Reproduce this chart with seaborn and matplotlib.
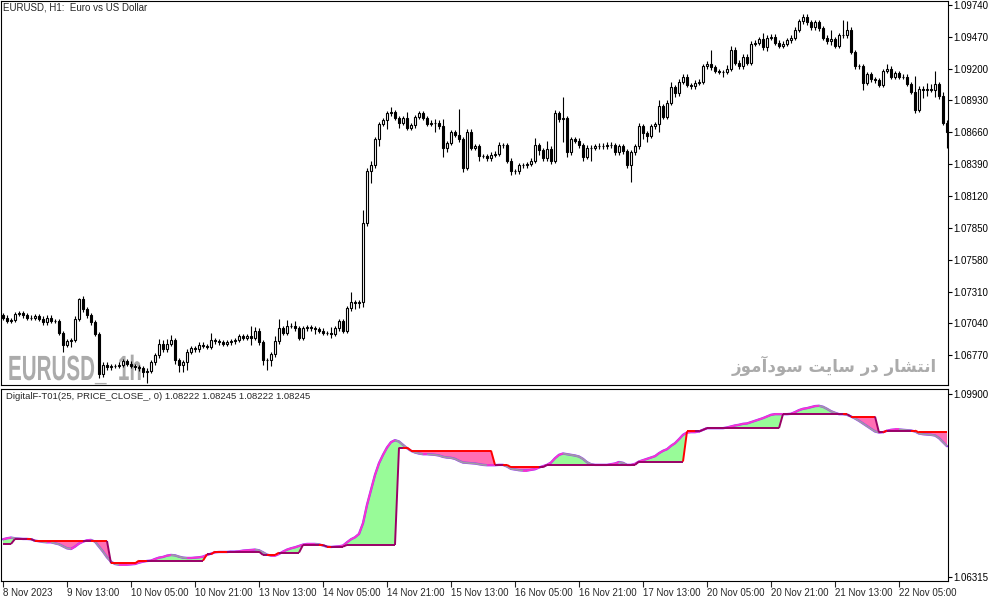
import numpy as np
import matplotlib
matplotlib.use("Agg")
import matplotlib.pyplot as plt
import seaborn as sns
from matplotlib.collections import LineCollection
from matplotlib.textpath import TextPath
from matplotlib.patches import PathPatch
from matplotlib.font_manager import FontProperties
from matplotlib.transforms import Affine2D, IdentityTransform

#%% data (EURUSD H1, 8 Nov 21:00 -> 22 Nov 17:00)
first_open = 1.0711
closes = [
    1.0709, 1.0706, 1.0707, 1.0712, 1.0713, 1.0711, 1.0709, 1.0709, 1.0710, 1.0708,
    1.0705, 1.0709, 1.0706, 1.0706, 1.0696, 1.0686, 1.0689, 1.0690, 1.0708, 1.0725,
    1.0716, 1.0711, 1.0705, 1.0695, 1.0661, 1.0669, 1.0667, 1.0668, 1.0668, 1.0669,
    1.0672, 1.0670, 1.0668, 1.0667, 1.0666, 1.0663, 1.0664, 1.0671, 1.0677, 1.0687,
    1.0682, 1.0687, 1.0690, 1.0673, 1.0669, 1.0671, 1.0680, 1.0683, 1.0682, 1.0686,
    1.0685, 1.0684, 1.0690, 1.0689, 1.0688, 1.0687, 1.0688, 1.0689, 1.0690, 1.0693,
    1.0692, 1.0693, 1.0692, 1.0698, 1.0688, 1.0673, 1.0673, 1.0678, 1.0689, 1.0700,
    1.0696, 1.0702, 1.0702, 1.0700, 1.0692, 1.0700, 1.0701, 1.0700, 1.0699, 1.0698,
    1.0696, 1.0696, 1.0695, 1.0700, 1.0706, 1.0698, 1.0717, 1.0722, 1.0721, 1.0722,
    1.0789, 1.0833, 1.0838, 1.0860, 1.0873, 1.0876, 1.0882, 1.0883, 1.0878, 1.0874,
    1.0878, 1.0870, 1.0872, 1.0879, 1.0882, 1.0878, 1.0873, 1.0874, 1.0874, 1.0871,
    1.0853, 1.0857, 1.0866, 1.0864, 1.0860, 1.0836, 1.0866, 1.0853, 1.0854, 1.0846,
    1.0846, 1.0844, 1.0847, 1.0848, 1.0855, 1.0855, 1.0842, 1.0833, 1.0833, 1.0838,
    1.0838, 1.0839, 1.0842, 1.0855, 1.0851, 1.0844, 1.0852, 1.0842, 1.0882, 1.0877,
    1.0878, 1.0849, 1.0860, 1.0859, 1.0855, 1.0845, 1.0853, 1.0853, 1.0854, 1.0854,
    1.0854, 1.0855, 1.0855, 1.0849, 1.0854, 1.0850, 1.0838, 1.0849, 1.0854, 1.0871,
    1.0865, 1.0863, 1.0871, 1.0873, 1.0888, 1.0879, 1.0891, 1.0904, 1.0899, 1.0909,
    1.0913, 1.0906, 1.0905, 1.0908, 1.0909, 1.0922, 1.0924, 1.0921, 1.0918, 1.0917,
    1.0917, 1.0920, 1.0936, 1.0925, 1.0922, 1.0930, 1.0925, 1.0941, 1.0942, 1.0945,
    1.0938, 1.0946, 1.0947, 1.0942, 1.0939, 1.0941, 1.0944, 1.0946, 1.0953, 1.0960,
    1.0964, 1.0959, 1.0955, 1.0959, 1.0954, 1.0946, 1.0943, 1.0945, 1.0939, 1.0948,
    1.0948, 1.0953, 1.0934, 1.0922, 1.0922, 1.0908, 1.0915, 1.0911, 1.0910, 1.0906,
    1.0918, 1.0920, 1.0913, 1.0916, 1.0913, 1.0913, 1.0907, 1.0900, 1.0885, 1.0903,
    1.0902, 1.0903, 1.0902, 1.0907, 1.0897, 1.0874, 1.0866,
]
# upper / lower shadow length in pips
wick_up = [
    2, 2, 2, 2, 2, 2, 2, 2, 2, 2,   2, 2, 2, 2, 2, 2, 2, 2, 2, 1,
    2, 2, 2, 2, 2, 2, 2, 2, 2, 2,   2, 2, 2, 2, 2, 2, 2, 2, 2, 4,
    3, 4, 4, 2, 2, 2, 2, 2, 2, 2,   2, 2, 6, 2, 2, 2, 2, 2, 2, 2,
    2, 2, 9, 3, 2, 2, 2, 2, 4, 8,   2, 5, 2, 4, 2, 2, 2, 2, 2, 2,
    2, 2, 5, 2, 2, 2, 2, 9, 2, 2,   11, 3, 4, 2, 2, 2, 2, 4, 2, 2,
    2, 5, 2, 2, 2, 2, 2, 2, 3, 2,   6, 2, 2, 2, 22, 2, 3, 3, 2, 2,
    2, 2, 2, 2, 3, 2, 2, 2, 2, 2,   2, 2, 2, 6, 2, 2, 7, 2, 3, 2,
    18, 2, 2, 2, 2, 2, 2, 2, 2, 3,  3, 3, 3, 2, 2, 2, 2, 2, 2, 3,
    2, 2, 2, 2, 5, 2, 2, 5, 2, 2,   2, 2, 2, 2, 2, 2, 2, 12, 2, 2,
    2, 3, 3, 2, 2, 2, 2, 2, 2, 2,   5, 2, 2, 2, 2, 2, 2, 2, 2, 2,
    2, 2, 2, 2, 2, 2, 2, 8, 2, 2,   13, 7, 2, 2, 2, 2, 2, 2, 2, 2,
    2, 4, 2, 2, 2, 2, 2, 2, 14, 2,  2, 5, 4, 11, 2, 3, 2,
]
wick_dn = [
    2, 2, 2, 2, 2, 2, 2, 2, 2, 2,   2, 2, 2, 2, 2, 6, 2, 5, 2, 2,
    2, 2, 2, 2, 3, 2, 2, 2, 2, 2,   2, 2, 2, 2, 2, 4, 9, 2, 2, 2,
    2, 2, 2, 3, 6, 6, 6, 2, 2, 2,   2, 2, 2, 2, 2, 2, 2, 2, 2, 2,
    2, 2, 6, 2, 2, 4, 8, 5, 2, 2,   2, 2, 2, 2, 2, 2, 2, 2, 4, 2,
    2, 2, 3, 2, 2, 2, 2, 2, 5, 4,   4, 2, 10, 2, 6, 2, 7, 2, 2, 4,
    2, 2, 2, 2, 2, 2, 2, 2, 8, 2,   8, 4, 2, 2, 2, 4, 2, 2, 2, 4,
    2, 2, 2, 2, 2, 2, 2, 3, 2, 2,   2, 2, 2, 2, 4, 2, 2, 3, 2, 2,
    19, 4, 2, 2, 2, 3, 2, 11, 2, 2, 2, 2, 2, 2, 2, 2, 2, 14, 2, 2,
    5, 5, 2, 2, 7, 2, 2, 2, 3, 2,   2, 2, 2, 2, 2, 2, 2, 2, 2, 2,
    4, 2, 2, 2, 2, 2, 2, 2, 2, 2,   2, 3, 2, 2, 2, 2, 2, 2, 2, 2,
    2, 2, 2, 2, 2, 2, 2, 3, 2, 2,   2, 2, 2, 2, 2, 6, 2, 2, 2, 2,
    2, 2, 2, 2, 2, 2, 2, 2, 3, 2,   7, 5, 2, 6, 3, 2, 13,
]
# DigitalF-T01 smooth filter line
digital_line = [
    1.07049, 1.07069, 1.07082, 1.07069, 1.07062, 1.07056, 1.07056, 1.07049, 1.07023, 1.07010,
    1.06997, 1.06990, 1.06990, 1.06970, 1.06951, 1.06911, 1.06872, 1.06859, 1.06905, 1.06964,
    1.07003, 1.07029, 1.07036, 1.07003, 1.06905, 1.06807, 1.06695, 1.06610, 1.06564, 1.06551,
    1.06551, 1.06551, 1.06558, 1.06564, 1.06590, 1.06610, 1.06623, 1.06630, 1.06662, 1.06689,
    1.06702, 1.06728, 1.06741, 1.06734, 1.06708, 1.06689, 1.06682, 1.06682, 1.06689, 1.06695,
    1.06708, 1.06741, 1.06767, 1.06793, 1.06800, 1.06800, 1.06800, 1.06807, 1.06807, 1.06813,
    1.06826, 1.06833, 1.06839, 1.06846, 1.06833, 1.06793, 1.06748, 1.06728, 1.06728, 1.06761,
    1.06807, 1.06846, 1.06872, 1.06892, 1.06918, 1.06944, 1.06957, 1.06957, 1.06957, 1.06951,
    1.06925, 1.06905, 1.06898, 1.06905, 1.06911, 1.06925, 1.06990, 1.07049, 1.07088, 1.07154,
    1.07364, 1.07724, 1.08019, 1.08314, 1.08543, 1.08707, 1.08851, 1.08956, 1.08995, 1.08969,
    1.08904, 1.08838, 1.08786, 1.08753, 1.08733, 1.08720, 1.08720, 1.08713, 1.08707, 1.08694,
    1.08668, 1.08654, 1.08648, 1.08628, 1.08589, 1.08556, 1.08550, 1.08543, 1.08537, 1.08523,
    1.08510, 1.08504, 1.08504, 1.08504, 1.08510, 1.08510, 1.08478, 1.08432, 1.08419, 1.08406,
    1.08399, 1.08399, 1.08412, 1.08425, 1.08458, 1.08484, 1.08510, 1.08556, 1.08641, 1.08707,
    1.08733, 1.08720, 1.08707, 1.08694, 1.08674, 1.08628, 1.08563, 1.08523, 1.08510, 1.08510,
    1.08510, 1.08510, 1.08523, 1.08537, 1.08566, 1.08550, 1.08510, 1.08510, 1.08530, 1.08576,
    1.08602, 1.08628, 1.08654, 1.08681, 1.08740, 1.08786, 1.08818, 1.08884, 1.08936, 1.09015,
    1.09100, 1.09146, 1.09153, 1.09153, 1.09166, 1.09198, 1.09231, 1.09231, 1.09231, 1.09231,
    1.09231, 1.09244, 1.09264, 1.09284, 1.09297, 1.09316, 1.09323, 1.09349, 1.09375, 1.09402,
    1.09428, 1.09460, 1.09493, 1.09506, 1.09506, 1.09506, 1.09506, 1.09513, 1.09546, 1.09585,
    1.09611, 1.09624, 1.09644, 1.09664, 1.09670, 1.09651, 1.09611, 1.09565, 1.09533, 1.09506,
    1.09506, 1.09493, 1.09460, 1.09421, 1.09375, 1.09323, 1.09270, 1.09218, 1.09166, 1.09146,
    1.09153, 1.09179, 1.09198, 1.09205, 1.09205, 1.09198, 1.09192, 1.09185, 1.09166, 1.09126,
    1.09113, 1.09107, 1.09100, 1.09087, 1.09035, 1.08956, 1.08877,
]
# trend (step) line: level and how many bars it holds
trend_levels = [1.06957, 1.07056, 1.07016, 1.06577, 1.06630, 1.06754, 1.06807, 1.06741,
                1.06787, 1.06938, 1.06905, 1.06938, 1.08851, 1.08792, 1.08510, 1.08464,
                1.08510, 1.08576, 1.09166, 1.09198, 1.09231, 1.09506, 1.09460, 1.09146,
                1.09185, 1.09146]
trend_bars = [3, 5, 19, 7, 17, 2, 12, 4, 6, 6, 5, 13, 3, 21, 4, 9, 23, 12, 4, 1,
              19, 17, 7, 2, 8, 8]

price_ticks = [1.06770, 1.07040, 1.07310, 1.07580, 1.07850, 1.08120,
               1.08390, 1.08660, 1.08930, 1.09200, 1.09470, 1.09740]
ind_ticks = [1.06315, 1.09900]
label_bars = [0, 16, 32, 48, 64, 80, 96, 112, 128, 144, 160, 176, 192, 208, 224]
time_labels = ['8 Nov 2023', '9 Nov 13:00', '10 Nov 05:00', '10 Nov 21:00', '13 Nov 13:00',
               '14 Nov 05:00', '14 Nov 21:00', '15 Nov 13:00', '16 Nov 05:00', '16 Nov 21:00',
               '17 Nov 13:00', '20 Nov 05:00', '20 Nov 21:00', '21 Nov 13:00', '22 Nov 05:00']

#%% setup
sns.set_style('white')
plt.rcParams['font.family'] = ['Liberation Sans', 'DejaVu Sans']

W, H = 1003, 603
fig = plt.figure(figsize=(W / 100, H / 100), dpi=100)
fig.patch.set_facecolor('white')

def box(l, t, r, b):
    return [l / W, 1 - b / H, (r - l) / W, (b - t) / H]

ax1 = fig.add_axes(box(1, 1, 948, 385))
ax2 = fig.add_axes(box(1, 389, 948, 581))

n = len(closes)
idx = np.arange(n)
c = np.array(closes)
o = np.r_[first_open, c[:-1]]
pip = 0.0001
hi = np.maximum(o, c) + np.array(wick_up) * pip
lo = np.minimum(o, c) - np.array(wick_dn) * pip
bull = c >= o

#%% candles
ax1.vlines(idx, lo, hi, color='black', lw=0.8, zorder=2)
ax1.bar(idx[bull], (c - o)[bull], bottom=o[bull], width=0.5,
        facecolor='white', edgecolor='black', lw=0.8, zorder=3)
ax1.bar(idx[~bull], (o - c)[~bull], bottom=c[~bull], width=0.5,
        facecolor='black', edgecolor='black', lw=0.8, zorder=3)

# gray watermark behind the candles
prop = FontProperties(family='Liberation Sans', weight='bold')
tp = TextPath((0, 0), 'EURUSD_  1h', size=1, prop=prop)
tf = Affine2D().scale(20.6, 35).translate(8, H - 380)
ax1.add_patch(PathPatch(tf.transform_path(tp), facecolor='#ABABAB', edgecolor='none',
                        transform=IdentityTransform(), zorder=1))
# Persian watermark (pre-shaped, visual order)
fa_text = '\uFEAF\uFEEE\uFEE3\uFE81\uFEA9\uFEEE\uFEB3 \uFE96\uFEF3\uFE8E\uFEB3 \uFEAD\uFEA9 \uFEAD\uFE8E\uFEB8\uFE98\uFEE7\uFE8D'
fig.text(834 / W, 1 - 366 / H, fa_text, ha='center', va='center', fontsize=12,
         color='#ABABAB', fontweight='bold', family=['DejaVu Sans'])

#%% indicator
sm = np.array(digital_line)
tr = np.repeat(trend_levels, trend_bars)
ax2.fill_between(idx, sm, tr, where=sm >= tr, interpolate=True, color='#98FB98', lw=0)
ax2.fill_between(idx, sm, tr, where=sm < tr, interpolate=True, color='#FF6EB4', lw=0)

def segs(y):
    pts = np.column_stack([idx, y])
    return np.stack([pts[:-1], pts[1:]], axis=1)

sns.lineplot(x=idx, y=sm, ax=ax2, color='#9933FF', lw=1.7)
sm_cols = np.where(np.diff(sm) >= 0, '#FF33CC', '#A0A0A0')
ax2.add_collection(LineCollection(segs(sm), colors=sm_cols, linewidths=1.2, zorder=4))
tr_cols = np.where(sm[1:] >= tr[1:], '#990066', '#FF0000')
ax2.add_collection(LineCollection(segs(tr), colors=tr_cols, linewidths=1.4, zorder=5))
ax2.set_xlabel('')
ax2.set_ylabel('')

#%% axes styling
for ax in (ax1, ax2):
    ax.set_xlim(-0.5, 236.25)
    ax.yaxis.tick_right()
    ax.tick_params(axis='y', direction='out', length=3, width=0.8, pad=1,
                   labelsize=7, colors='black', right=True, left=False)
    for s in ax.spines.values():
        s.set_color('black')
        s.set_linewidth(0.8)

ax1.set_xticks([])
ax1.set_ylim(1.06519, 1.09772)
ax1.set_yticks(price_ticks)
ax1.set_yticklabels(['{:.5f}'.format(v) for v in price_ticks])

ax2.set_ylim(1.0623, 1.1000)
ax2.set_yticks(ind_ticks)
ax2.set_yticklabels(['{:.5f}'.format(v) for v in ind_ticks])
ax2.set_xticks(label_bars)
ax2.set_xticklabels(time_labels)
ax2.tick_params(axis='x', direction='out', length=4, width=0.8, pad=1, labelsize=7,
                bottom=True)
for lab in ax2.get_xticklabels():
    lab.set_horizontalalignment('left')

fig.text(3 / W, 1 - 2 / H, 'EURUSD, H1:  Euro vs US Dollar', ha='left', va='top', fontsize=7)
fig.text(6 / W, 1 - 392 / H, 'DigitalF-T01(25, PRICE_CLOSE_, 0) 1.08222 1.08245 1.08222 1.08245',
         ha='left', va='top', fontsize=6.8)

fig.savefig('out.png', dpi=100)
